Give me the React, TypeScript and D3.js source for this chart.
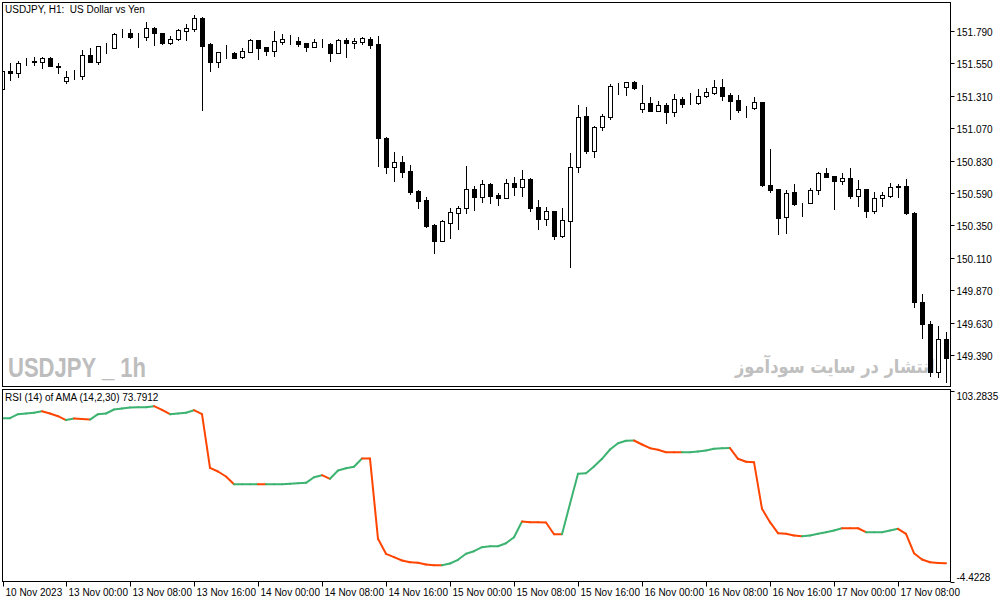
import * as d3 from "d3";
import { useRef, useEffect } from "react";

const W = 1003;
const H = 603;

// hourly bars, 10 Nov 16:00 .. 17 Nov 14:00
const opens = [
  151.361, 151.494, 151.479, 151.561, 151.561, 151.561, 151.59, 151.531, 151.42, 151.457,
  151.457, 151.613, 151.561, 151.679, 151.664, 151.776, 151.776, 151.753, 151.746, 151.813,
  151.776, 151.701, 151.731, 151.79, 151.805, 151.887, 151.694, 151.561, 151.627, 151.627,
  151.598, 151.635, 151.724, 151.672, 151.642, 151.709, 151.726, 151.716, 151.701, 151.672,
  151.703, 151.694, 151.627, 151.724, 151.701, 151.709, 151.731, 151.694, 150.998, 150.783,
  150.82, 150.753, 150.605, 150.539, 150.353, 150.235, 150.368, 150.442, 150.479, 150.62,
  150.561, 150.657, 150.576, 150.553, 150.664, 150.635, 150.694, 150.487, 150.398, 150.457,
  150.272, 150.383, 150.783, 151.161, 150.901, 151.079, 151.153, 151.383, 151.376, 151.413,
  151.213, 151.257, 151.198, 151.242, 151.19, 151.287, 151.257, 151.257, 151.309, 151.331,
  151.376, 151.316, 151.279, 151.22, 151.22, 151.264, 150.65, 150.62, 150.413, 150.598,
  150.509, 150.516, 150.613, 150.739, 150.716, 150.679, 150.701, 150.568, 150.62, 150.457,
  150.553, 150.568, 150.635, 150.642, 150.442, 149.783, 149.62, 149.264, 149.509,
];
const highs = [
  151.501, 151.553, 151.568, 151.59, 151.598, 151.598, 151.598, 151.553, 151.494, 151.501,
  151.65, 151.664, 151.679, 151.701, 151.776, 151.805, 151.805, 151.776, 151.857, 151.82,
  151.776, 151.753, 151.805, 151.842, 151.909, 151.89, 151.701, 151.637, 151.687, 151.635,
  151.664, 151.731, 151.726, 151.674, 151.79, 151.768, 151.761, 151.746, 151.703, 151.731,
  151.731, 151.701, 151.731, 151.739, 151.739, 151.746, 151.746, 151.753, 151.005, 150.894,
  150.864, 150.798, 150.613, 150.561, 150.361, 150.39, 150.479, 150.494, 150.79, 150.642,
  150.687, 150.664, 150.59, 150.694, 150.709, 150.761, 150.701, 150.539, 150.487, 150.459,
  150.479, 150.887, 151.242, 151.227, 151.087, 151.176, 151.398, 151.405, 151.415, 151.42,
  151.39, 151.301, 151.272, 151.257, 151.324, 151.301, 151.331, 151.361, 151.368, 151.427,
  151.435, 151.331, 151.316, 151.235, 151.301, 151.266, 150.916, 150.622, 150.613, 150.657,
  150.516, 150.627, 150.746, 150.776, 150.718, 150.739, 150.776, 150.687, 150.622, 150.598,
  150.598, 150.664, 150.657, 150.694, 150.45, 149.842, 149.642, 149.605, 149.561,
];
const lows = [
  151.353, 151.427, 151.45, 151.539, 151.539, 151.516, 151.531, 151.479, 151.405, 151.435,
  151.435, 151.561, 151.546, 151.627, 151.664, 151.746, 151.739, 151.672, 151.724, 151.687,
  151.694, 151.694, 151.724, 151.724, 151.79, 151.205, 151.494, 151.524, 151.59, 151.59,
  151.59, 151.635, 151.583, 151.613, 151.605, 151.694, 151.694, 151.679, 151.642, 151.672,
  151.672, 151.568, 151.627, 151.598, 151.664, 151.694, 151.664, 150.79, 150.739, 150.679,
  150.709, 150.583, 150.479, 150.339, 150.146, 150.235, 150.257, 150.324, 150.442, 150.464,
  150.524, 150.516, 150.501, 150.553, 150.576, 150.568, 150.457, 150.324, 150.353, 150.25,
  150.264, 150.042, 150.746, 150.887, 150.857, 151.057, 151.139, 151.324, 151.316, 151.361,
  151.19, 151.198, 151.198, 151.109, 151.161, 151.227, 151.25, 151.25, 151.301, 151.324,
  151.279, 151.139, 151.19, 151.153, 151.213, 150.642, 150.598, 150.287, 150.294, 150.501,
  150.42, 150.516, 150.583, 150.709, 150.472, 150.657, 150.553, 150.494, 150.413, 150.442,
  150.494, 150.561, 150.561, 150.435, 149.746, 149.516, 149.235, 149.227, 149.19,
];
const closes = [
  151.494, 151.479, 151.553, 151.557, 151.564, 151.59, 151.531, 151.524, 151.45, 151.455,
  151.613, 151.561, 151.679, 151.675, 151.768, 151.774, 151.746, 151.75, 151.813, 151.776,
  151.701, 151.731, 151.798, 151.813, 151.887, 151.679, 151.561, 151.635, 151.624, 151.59,
  151.642, 151.724, 151.664, 151.642, 151.716, 151.731, 151.722, 151.694, 151.672, 151.709,
  151.701, 151.627, 151.724, 151.701, 151.716, 151.739, 151.687, 150.998, 150.783, 150.82,
  150.746, 150.598, 150.531, 150.346, 150.235, 150.383, 150.45, 150.479, 150.62, 150.561,
  150.657, 150.568, 150.553, 150.664, 150.635, 150.694, 150.479, 150.398, 150.457, 150.272,
  150.39, 150.783, 151.153, 150.901, 151.079, 151.161, 151.383, 151.38, 151.413, 151.368,
  151.257, 151.198, 151.242, 151.19, 151.287, 151.25, 151.254, 151.309, 151.339, 151.376,
  151.309, 151.272, 151.205, 151.217, 151.264, 150.65, 150.613, 150.405, 150.59, 150.509,
  150.506, 150.613, 150.739, 150.709, 150.679, 150.701, 150.568, 150.62, 150.457, 150.553,
  150.576, 150.635, 150.642, 150.442, 149.783, 149.62, 149.264, 149.509, 149.368,
];

// RSI(14) of AMA, one value per bar
const rsiValues = [
  87.66, 87.66, 89.92, 90.31, 90.71, 91.61, 90.31, 88.79, 86.6, 87.5,
  87.2, 86.9, 89.92, 90.31, 92.57, 93.13, 93.7, 93.87, 93.9, 94.43,
  92.4, 89.92, 90.31, 90.71, 92.17, 89.92, 59.69, 57.61, 54.79, 50.45,
  50.46, 50.47, 50.48, 50.44, 50.45, 50.46, 50.67, 51.01, 51.23, 54.39,
  55.52, 53.49, 58.17, 59.47, 60.26, 64.94, 64.9, 19.66, 11.2, 9.28,
  7.42, 6.46, 6.12, 5.16, 4.78, 4.77, 5.73, 7.81, 11.2, 12.66,
  14.92, 15.48, 15.48, 17.17, 20.56, 29.41, 29.02, 29.0, 28.85, 22.25,
  22.2, 39.39, 56.31, 56.65, 60.43, 64.77, 70.01, 73.57, 74.92, 75.09,
  72.83, 70.75, 69.85, 68.49, 68.45, 68.42, 68.43, 68.88, 69.45, 70.41,
  70.75, 70.8, 64.77, 63.08, 62.85, 36.57, 29.02, 22.81, 22.48, 21.52,
  21.12, 21.52, 22.48, 23.38, 24.34, 25.64, 25.62, 25.6, 23.38, 23.39,
  23.4, 24.34, 25.3, 22.48, 11.54, 7.98, 6.46, 5.95, 5.9,
];

const timeLabels = [
  "10 Nov 2023", "13 Nov 00:00", "13 Nov 08:00", "13 Nov 16:00", "14 Nov 00:00",
  "14 Nov 08:00", "14 Nov 16:00", "15 Nov 00:00", "15 Nov 08:00", "15 Nov 16:00",
  "16 Nov 00:00", "16 Nov 08:00", "16 Nov 16:00", "17 Nov 00:00", "17 Nov 08:00",
];
const priceTicks = [151.79, 151.55, 151.31, 151.07, 150.83, 150.59, 150.35, 150.11, 149.87, 149.63, 149.39];
const rsiTicks = [103.2835, -4.4228];

const FONT = "'Liberation Sans', Arial, sans-serif";

function App() {
  const ref = useRef<SVGSVGElement>(null);

  useEffect(() => {
    draw();
  }, []);

  const draw = () => {
    const svg = d3.select(ref.current);
    svg.selectAll("*").remove();

    const left = 2.5;
    const right = 950.5;
    const mainTop = 2.5;
    const mainBottom = 386.5;
    const rsiTop = 389.5;
    const rsiBottom = 581.5;

    const x = d3.scaleLinear().domain([0, 118]).range([2, 946]);
    const y = d3.scaleLinear().domain([149.153, 151.997]).range([387, 3]);
    const yr = d3.scaleLinear().domain([-4.4228, 103.2835]).range([581.5, 390.5]);

    svg.append("rect").attr("width", W).attr("height", H).attr("fill", "#fff");

    const defs = svg.append("defs");
    defs
      .append("clipPath")
      .attr("id", "mainclip")
      .append("rect")
      .attr("x", 3)
      .attr("y", 3)
      .attr("width", right - 3)
      .attr("height", mainBottom - 3);
    defs
      .append("clipPath")
      .attr("id", "rsiclip")
      .append("rect")
      .attr("x", 3)
      .attr("y", rsiTop + 0.5)
      .attr("width", right - 3)
      .attr("height", rsiBottom - rsiTop - 1);

    // watermarks
    svg
      .append("text")
      .attr("x", 8)
      .attr("y", 377)
      .attr("font-family", "'Liberation Sans Narrow', 'Liberation Sans', Arial, sans-serif")
      .attr("font-weight", "bold")
      .attr("font-size", "28px")
      .attr("textLength", 138)
      .attr("lengthAdjust", "spacingAndGlyphs")
      .attr("fill", "#bdbdbd")
      .text("USDJPY _ 1h");

    // persian watermark, squeezed to its width in the picture
    const fa = svg
      .append("text")
      .attr("x", 0)
      .attr("y", 0)
      .attr("font-family", "'DejaVu Sans', sans-serif")
      .attr("font-weight", "bold")
      .attr("font-size", "19px")
      .attr("fill", "#c0c0c0")
      .text("انتشار در سایت سودآموز");
    const faLen = (fa.node() as SVGTextElement).getComputedTextLength() || 200;
    fa.attr("transform", `translate(735,373) scale(${200 / faLen},1)`);

    // candles
    const candles = svg
      .append("g")
      .attr("clip-path", "url(#mainclip)")
      .selectAll("g")
      .data(opens.map((o, i) => ({ i, o, h: highs[i], l: lows[i], c: closes[i] })))
      .join("g");

    candles
      .append("line")
      .attr("x1", (d) => x(d.i) + 0.5)
      .attr("x2", (d) => x(d.i) + 0.5)
      .attr("y1", (d) => Math.round(y(d.h)))
      .attr("y2", (d) => Math.round(y(d.l)) + 1)
      .attr("stroke", "#000")
      .attr("stroke-width", 1);

    candles
      .append("rect")
      .attr("x", (d) => x(d.i) - 1.5)
      .attr("width", 4)
      .attr("y", (d) => Math.round(y(Math.max(d.o, d.c))) + 0.5)
      .attr("height", (d) =>
        Math.max(0, Math.round(y(Math.min(d.o, d.c))) - Math.round(y(Math.max(d.o, d.c))))
      )
      .attr("fill", (d) => (d.c >= d.o ? "#fff" : "#000"))
      .attr("stroke", "#000")
      .attr("stroke-width", 1);

    // rsi line, coloured by direction
    const rsiG = svg.append("g").attr("clip-path", "url(#rsiclip)");
    rsiG
      .selectAll("line")
      .data(rsiValues.slice(1).map((v, k) => ({ i: k + 1, a: rsiValues[k], b: v })))
      .join("line")
      .attr("x1", (d) => x(d.i - 1))
      .attr("x2", (d) => x(d.i))
      .attr("y1", (d) => yr(d.a))
      .attr("y2", (d) => yr(d.b))
      .attr("stroke", (d) => (d.b >= d.a ? "#3cb371" : "#ff4500"))
      .attr("stroke-width", 2)
      .attr("stroke-linecap", "round");

    // panel frames
    svg
      .append("rect")
      .attr("x", left)
      .attr("y", mainTop)
      .attr("width", right - left)
      .attr("height", mainBottom - mainTop)
      .attr("fill", "none")
      .attr("stroke", "#000");
    svg
      .append("rect")
      .attr("x", left)
      .attr("y", rsiTop)
      .attr("width", right - left)
      .attr("height", rsiBottom - rsiTop)
      .attr("fill", "none")
      .attr("stroke", "#000");

    // price axis
    const pa = svg.append("g");
    priceTicks.forEach((p) => {
      const py = Math.round(y(p)) + 0.5;
      pa.append("line").attr("x1", right).attr("x2", right + 4).attr("y1", py).attr("y2", py).attr("stroke", "#000");
      pa.append("text")
        .attr("x", right + 6)
        .attr("y", py + 4)
        .attr("font-family", FONT)
        .attr("font-size", "10px")
        .attr("fill", "#000")
        .text(d3.format(".3f")(p));
    });

    // rsi axis
    rsiTicks.forEach((v, k) => {
      const py = Math.round(yr(v)) + 0.5;
      pa.append("line").attr("x1", right).attr("x2", right + 4).attr("y1", py).attr("y2", py).attr("stroke", "#000");
      pa.append("text")
        .attr("x", right + 6)
        .attr("y", k === 0 ? py + 8 : py - 2)
        .attr("font-family", FONT)
        .attr("font-size", "10px")
        .attr("fill", "#000")
        .text(String(v));
    });

    // time axis
    timeLabels.forEach((t, k) => {
      const tx = x(k * 8) + 0.5 + (k === 0 ? 1 : 0);
      pa.append("line").attr("x1", tx).attr("x2", tx).attr("y1", rsiBottom).attr("y2", rsiBottom + 5).attr("stroke", "#000");
      pa.append("text")
        .attr("x", tx + 2)
        .attr("y", 596)
        .attr("font-family", FONT)
        .attr("font-size", "10px")
        .attr("fill", "#000")
        .text(t);
    });

    // titles
    svg
      .append("text")
      .attr("x", 5)
      .attr("y", 13)
      .attr("font-family", FONT)
      .attr("font-size", "10px")
      .attr("fill", "#000")
      .attr("xml:space", "preserve")
      .text("USDJPY, H1:  US Dollar vs Yen");

    svg
      .append("text")
      .attr("x", 5)
      .attr("y", 401)
      .attr("font-family", FONT)
      .attr("font-size", "10px")
      .attr("fill", "#000")
      .text("RSI (14) of AMA (14,2,30) 73.7912");
  };

  return (
    <div className="chart">
      <svg
        ref={ref}
        width={W}
        height={H}
        style={{ position: "absolute", left: 0, top: 0, display: "block" }}
      ></svg>
    </div>
  );
}

export default App;
